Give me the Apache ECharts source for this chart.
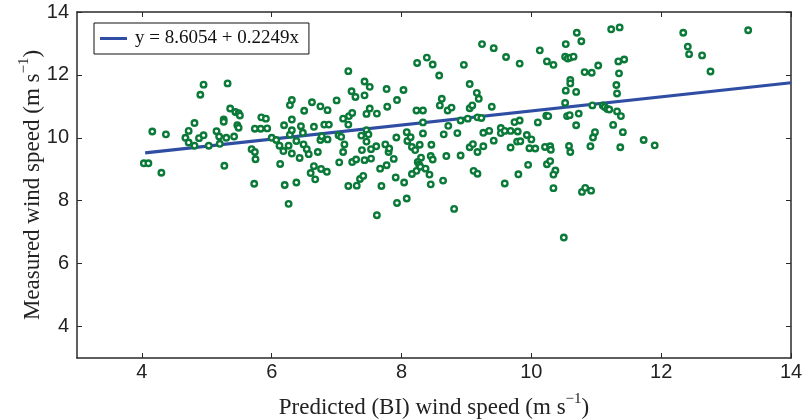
<!DOCTYPE html>
<html>
<head>
<meta charset="utf-8">
<script src="https://cdn.jsdelivr.net/npm/echarts@6/dist/echarts.min.js"></script>
<style>html,body{margin:0;padding:0;background:#fff}#c{width:804px;height:420px}</style>
</head>
<body>
<div id="c"></div>
<script>
// Predicted (BI) wind speed, m/s
var predicted = [
4.03,4.10,4.16,4.30,4.37,4.67,4.72,4.72,4.81,4.81,
4.88,4.90,4.95,4.95,5.03,5.15,5.19,5.20,5.26,5.26,
5.27,5.32,5.30,5.36,5.42,5.44,5.47,5.49,5.51,5.49,
5.69,5.74,5.75,5.73,5.74,5.84,5.83,5.91,5.93,6.00,
6.07,6.12,6.13,6.19,6.18,6.20,6.26,6.28,6.31,6.31,
6.28,6.31,6.26,6.31,6.38,6.38,6.43,6.45,6.48,6.49,
6.50,6.54,6.57,6.62,6.65,6.65,6.60,6.67,6.71,6.75,
6.75,6.77,6.76,6.81,6.86,6.88,6.86,6.85,7.00,7.03,
7.07,7.04,7.10,7.12,7.18,7.18,7.10,7.18,7.19,7.24,
7.23,7.29,7.24,7.30,7.31,7.36,7.41,7.43,7.43,7.46,
7.38,7.39,7.43,7.46,7.46,7.49,7.51,7.51,7.53,7.53,
7.61,7.62,7.62,7.67,7.69,7.77,7.78,7.75,7.77,7.80,
7.81,7.88,7.91,7.93,7.93,7.92,
8.03,8.08,8.09,8.14,8.04,8.08,8.16,8.21,8.28,8.24,
8.23,8.33,8.33,8.33,8.39,8.48,8.58,8.46,8.45,8.48,
8.30,8.25,8.27,8.23,8.29,8.37,8.43,8.16,8.45,8.62,
8.59,8.71,8.77,8.72,8.65,8.86,8.69,8.64,8.81,8.96,
9.05,8.91,9.02,8.91,9.05,9.10,9.05,9.09,9.16,9.19,
9.17,9.23,9.24,9.42,9.61,9.82,9.39,9.26,9.35,9.26,
9.17,9.11,9.17,9.42,9.53,9.53,9.59,9.68,9.79,9.74,
9.82,9.68,9.78,9.83,9.93,10.00,9.97,10.06,9.59,9.80,
9.95,10.13,10.24,10.34,10.10,10.23,10.26,10.21,10.29,10.30,
10.24,10.29,10.37,10.34,10.34,10.50,10.53,10.70,10.77,10.52,
10.56,10.60,10.65,10.60,10.60,10.53,10.69,10.52,10.55,10.59,
10.73,10.69,10.58,10.60,10.78,10.83,10.92,10.82,10.93,11.03,
10.94,10.98,10.95,10.91,11.10,11.13,11.17,11.20,11.23,11.36,
11.34,11.43,11.35,11.31,11.32,11.32,11.38,11.26,11.41,11.37,
11.73,11.90,12.34,12.41,12.43,12.63,12.76,13.34
];
// Measured wind speed, m/s
var measured = [
9.19,9.19,10.20,8.89,10.11,10.00,10.22,9.85,10.47,9.75,
9.99,11.37,11.69,10.08,9.75,10.21,10.04,9.81,10.58,10.51,
9.11,11.73,10.00,10.93,10.04,10.82,10.40,10.78,10.71,10.32,
9.64,9.55,9.32,8.54,10.29,10.65,10.29,10.61,10.30,10.00,
9.93,9.75,9.17,10.40,9.58,8.50,7.90,11.04,11.20,10.58,
10.10,10.24,9.75,9.50,9.90,8.58,9.36,10.37,10.16,9.79,
10.86,9.64,9.48,11.13,10.35,9.10,8.88,8.68,9.55,11.00,
9.93,10.05,9.01,10.42,10.88,10.42,9.95,8.92,11.19,10.08,
10.03,9.22,9.55,9.79,12.12,8.47,10.61,10.42,10.69,10.79,
11.48,11.30,9.23,9.31,8.48,8.69,8.79,11.79,11.35,10.76,
10.07,9.61,9.29,10.24,9.88,10.11,11.62,10.93,9.64,9.34,
9.73,10.77,7.54,9.02,8.47,11.55,10.99,9.79,9.13,9.55,
9.66,9.33,8.74,11.20,7.93,10.01,
11.52,10.18,9.90,10.02,8.58,8.07,9.71,9.61,9.78,12.38,
10.87,10.87,10.49,10.14,12.55,12.33,11.98,9.78,9.42,9.31,
9.37,9.23,9.15,8.95,9.08,9.02,8.83,8.85,8.52,11.24,
11.03,10.87,10.96,10.38,10.11,10.15,9.42,8.64,7.74,12.32,
11.71,10.55,10.61,9.44,9.70,9.80,10.94,11.03,11.43,11.24,
10.65,10.63,12.98,12.85,12.57,12.36,10.99,10.16,10.22,9.73,
9.55,8.95,8.86,9.91,10.31,10.15,10.22,10.22,10.20,10.50,
10.55,9.69,9.88,9.89,10.09,9.95,9.67,9.66,8.55,8.84,
9.14,12.78,12.43,12.32,10.49,10.70,10.69,9.71,9.73,9.62,
9.16,9.26,8.96,8.83,8.40,6.83,12.98,13.34,13.07,12.58,
12.52,12.55,12.58,11.84,11.73,11.50,11.46,11.11,10.69,10.72,
10.77,10.40,9.74,9.55,8.28,8.41,8.32,12.09,12.07,12.30,
11.03,10.18,10.01,9.73,11.03,10.98,10.92,10.90,13.45,13.51,
12.43,12.49,12.05,11.68,11.41,10.84,10.69,10.41,10.18,9.70,
9.93,9.76,13.34,12.90,12.66,12.62,12.11,13.42
];
// Regression line end points
var fitX = [4.05, 14];
var fitY = [9.52, 11.75];
var fitName = 'y = 8.6054 + 0.2249x';
var xTicks = [4, 6, 8, 10, 12, 14];
var yTicks = [4, 6, 8, 10, 12, 14];
var xName = 'Predicted (BI) wind speed (m s';
var yName = 'Measured wind speed (m s';

var pts = predicted.map(function (v, i) { return [v, measured[i]]; });
var fit = fitX.map(function (v, i) { return [v, fitY[i]]; });

var axisLineStyle = { color: '#2a2a2a', width: 1.5 };
var tickStyle = { show: true, inside: true, length: 5, lineStyle: { color: '#2a2a2a', width: 1 } };
var labelFont = { fontFamily: 'Liberation Sans', fontSize: 20, color: '#222' };
var nameRich = {
  a: { fontFamily: 'Liberation Serif', fontSize: 23, color: '#222' },
  s: { fontFamily: 'Liberation Serif', fontSize: 15, color: '#222', verticalAlign: 'top', padding: [0, 0, 16, 0] }
};

var chart = echarts.init(document.getElementById('c'), null, { renderer: 'canvas' });
chart.setOption({
  animation: false,
  backgroundColor: '#fff',
  grid: { left: 77, right: 13, top: 12, bottom: 62, containLabel: false, outerBoundsMode: 'none' },
  legend: {
    left: 94, top: 23,
    padding: [6, 10, 6, 6],
    borderColor: '#111', borderWidth: 1,
    itemWidth: 27, itemHeight: 3,
    icon: 'rect',
    textStyle: { fontFamily: 'Liberation Serif', fontSize: 19, color: '#111', padding: [0, 0, 0, 3] },
    data: [fitName]
  },
  xAxis: [{
    type: 'value', min: 3, max: 14, position: 'bottom',
    axisLine: { show: true, onZero: false, lineStyle: axisLineStyle },
    axisTick: Object.assign({ customValues: xTicks }, tickStyle),
    axisLabel: Object.assign({ customValues: xTicks, margin: 4 }, labelFont),
    splitLine: { show: false },
    name: '{a|' + xName + '}{s|−1}{a|)}',
    nameLocation: 'middle', nameGap: 34, nameMoveOverlap: false,
    nameTextStyle: { rich: nameRich }
  }, {
    type: 'value', min: 3, max: 14, position: 'top',
    axisLine: { show: true, onZero: false, lineStyle: axisLineStyle },
    axisTick: Object.assign({ customValues: xTicks }, tickStyle),
    axisLabel: { show: false },
    splitLine: { show: false }
  }],
  yAxis: [{
    type: 'value', min: 3, max: 14, position: 'left',
    axisLine: { show: true, onZero: false, lineStyle: axisLineStyle },
    axisTick: Object.assign({ customValues: yTicks }, tickStyle),
    axisLabel: Object.assign({ customValues: yTicks, margin: 8 }, labelFont),
    splitLine: { show: false },
    name: '{a|' + yName + '}{s|−1}{a|)}',
    nameLocation: 'middle', nameGap: 29, nameRotate: 90, nameMoveOverlap: false,
    nameTextStyle: { rich: nameRich }
  }, {
    type: 'value', min: 3, max: 14, position: 'right',
    axisLine: { show: true, onZero: false, lineStyle: axisLineStyle },
    axisTick: Object.assign({ customValues: yTicks }, tickStyle),
    axisLabel: { show: false },
    splitLine: { show: false }
  }],
  series: [{
    type: 'scatter', name: 'data',
    xAxisIndex: 0, yAxisIndex: 0,
    data: pts,
    symbol: 'circle', symbolSize: 5.5,
    itemStyle: { color: '#ffffff', borderColor: '#0b7a39', borderWidth: 2.4, opacity: 1 },
    z: 3
  }, {
    type: 'line', name: fitName,
    xAxisIndex: 0, yAxisIndex: 0,
    data: fit,
    showSymbol: false, symbol: 'none',
    lineStyle: { color: '#2f4ea3', width: 3.2 },
    itemStyle: { color: '#2f4ea3' },
    z: 2
  }]
});
</script>
</body>
</html>
